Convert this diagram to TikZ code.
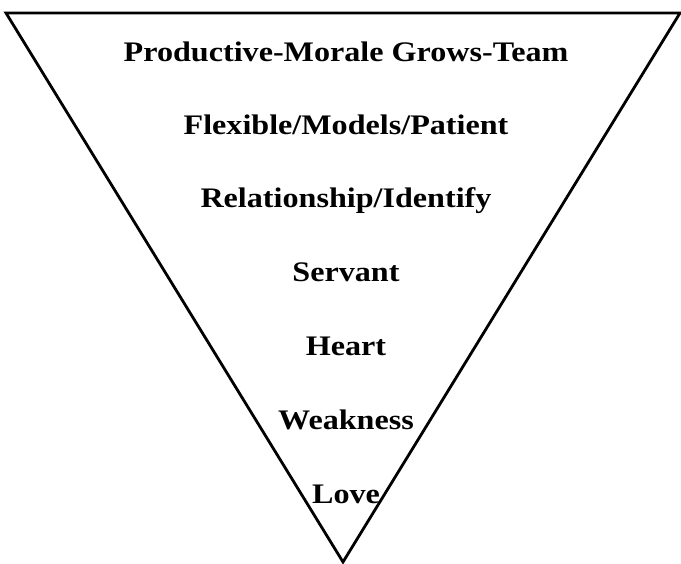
\documentclass[tikz,border=0pt]{standalone}
\usepackage{fontspec}
\setmainfont{Liberation Serif}
\usepackage{graphicx}
\usepackage{tikz}
\newcommand{\wide}[1]{\scalebox{1.135}[1]{#1}}

\begin{document}
\begin{tikzpicture}[x=1pt,y=-1pt,
  lbl/.style={anchor=base, font=\fontsize{28.3}{30}\selectfont\bfseries, inner sep=0pt}]
\useasboundingbox (0,0) rectangle (681,564);
\draw[line width=2.8pt] (6,13) -- (680,13) -- (343,562) -- cycle;
\node[lbl] (prod) at (346,62) {\wide{Productive-Morale Grows-Team}};
\node[lbl] (flex) at (346,135) {\wide{Flexible/Models/Patient}};
\node[lbl] (rel) at (346,208) {\wide{Relationship/Identify}};
\node[lbl] (serv) at (346,282) {\wide{Servant}};
\node[lbl] (heart) at (346,356) {\wide{Heart}};
\node[lbl] (weak) at (346,429) {\wide{Weakness}};
\node[lbl] (love) at (346,503) {\wide{Love}};
\end{tikzpicture}
\end{document}
